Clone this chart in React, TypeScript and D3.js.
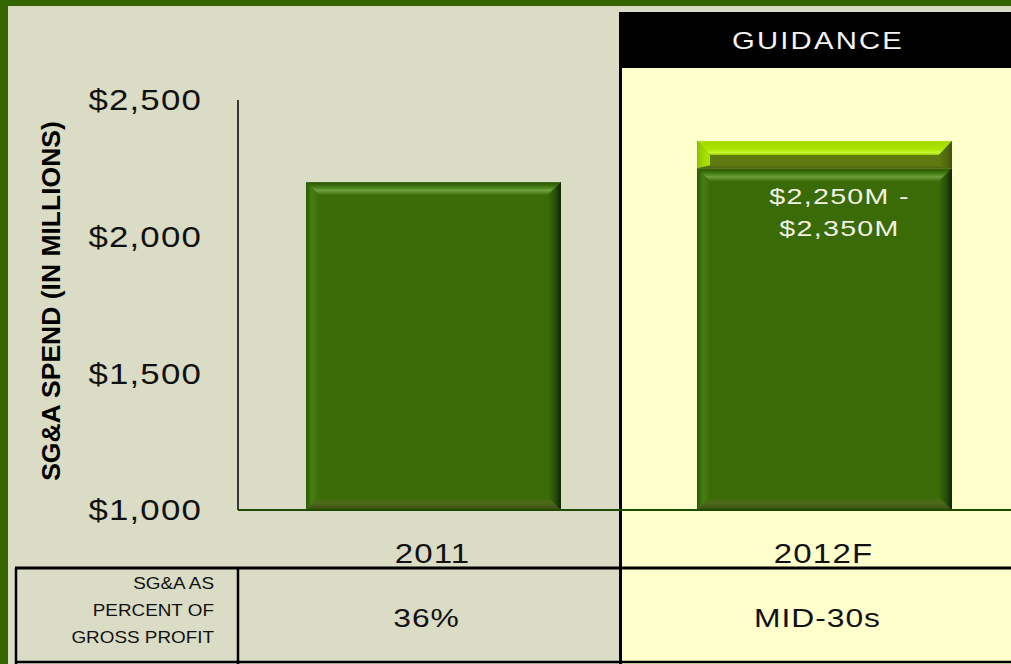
import React from "react";
import * as d3 from "d3";

const categories = ["2011", "2012F"];
const spendBase = [2200, 2250];
const spendRangeTop = [null, 2350];
const yTicks = [1000, 1500, 2000, 2500];
const percentLabels = ["36%", "MID-30s"];
const rangeLabelLines = ["$2,250M -", "$2,350M"];
const rowLabelLines = ["SG&A AS", "PERCENT OF", "GROSS PROFIT"];
const yTitle = "SG&A SPEND (IN MILLIONS)";
const guidanceLabel = "GUIDANCE";

const W = 1011;
const H = 664;
const FONT = "'Liberation Sans', Arial, sans-serif";

type STextProps = {
  x: number;
  y: number;
  size: number;
  text: string;
  anchor?: "start" | "middle" | "end";
  sx?: number;
  ls?: number;
  fill?: string;
  weight?: string | number;
};

function SText({ x, y, size, text, anchor = "middle", sx = 1.2, ls = 0, fill = "#111", weight = "normal" }: STextProps) {
  return (
    <g transform={`translate(${x},${y}) scale(${sx},1)`}>
      <text
        x={0}
        y={0}
        dy="0.36em"
        textAnchor={anchor}
        fontFamily={FONT}
        fontSize={size}
        letterSpacing={ls}
        fill={fill}
        fontWeight={weight}
      >
        {text}
      </text>
    </g>
  );
}

type Palette = {
  id: string;
  face: string;
  top: [string, string][];
  left: [string, string][];
  right: [string, string][];
  bottom: [string, string][];
};

const darkPal: Palette = {
  id: "dk",
  face: "#3A6B06",
  top: [["0%", "#4A7A1A"], ["12%", "#2E5A04"], ["45%", "#4C861A"], ["65%", "#6FA03E"], ["100%", "#3D6E09"]],
  left: [["0%", "#2C5804"], ["45%", "#477E14"], ["100%", "#3B6C07"]],
  right: [["0%", "#3A6B06"], ["55%", "#27500A"], ["100%", "#0E2400"]],
  bottom: [["0%", "#3A6B06"], ["45%", "#4F6A1A"], ["100%", "#3A4C12"]],
};

const lightPal: Palette = {
  id: "lt",
  face: "#5E7A10",
  top: [["0%", "#B8E830"], ["10%", "#A2DA00"], ["60%", "#ACE600"], ["82%", "#C6F630"], ["100%", "#9CCC00"]],
  left: [["0%", "#8CC000"], ["50%", "#A2D800"], ["100%", "#AEE400"]],
  right: [["0%", "#5E7A10"], ["60%", "#50680C"], ["100%", "#3E5206"]],
  bottom: [["0%", "#5E7A10"], ["100%", "#4C620C"]],
};

function PaletteDefs({ p }: { p: Palette }) {
  const mk = (name: string, stops: [string, string][], vertical: boolean) => (
    <linearGradient
      id={`${p.id}-${name}`}
      key={name}
      x1="0"
      y1="0"
      x2={vertical ? "0" : "1"}
      y2={vertical ? "1" : "0"}
    >
      {stops.map(([o, c], i) => (
        <stop key={i} offset={o} stopColor={c} />
      ))}
    </linearGradient>
  );
  return (
    <>
      {mk("top", p.top, true)}
      {mk("left", p.left, false)}
      {mk("right", p.right, false)}
      {mk("bottom", p.bottom, true)}
    </>
  );
}

function BevelRect({
  x0, y0, x1, y1, p, bs = 13, bt = 13, bb = 13,
}: { x0: number; y0: number; x1: number; y1: number; p: Palette; bs?: number; bt?: number; bb?: number }) {
  const pts = (a: number[][]) => a.map((q) => q.join(",")).join(" ");
  return (
    <g>
      <rect x={x0} y={y0} width={x1 - x0} height={y1 - y0} fill={p.face} />
      <polygon
        points={pts([[x0, y0], [x1, y0], [x1 - bs, y0 + bt], [x0 + bs, y0 + bt]])}
        fill={`url(#${p.id}-top)`}
      />
      <polygon
        points={pts([[x0, y1], [x1, y1], [x1 - bs, y1 - bb], [x0 + bs, y1 - bb]])}
        fill={`url(#${p.id}-bottom)`}
      />
      <polygon
        points={pts([[x0, y0], [x0 + bs, y0 + bt], [x0 + bs, y1 - bb], [x0, y1]])}
        fill={`url(#${p.id}-left)`}
      />
      <polygon
        points={pts([[x1, y0], [x1 - bs, y0 + bt], [x1 - bs, y1 - bb], [x1, y1]])}
        fill={`url(#${p.id}-right)`}
      />
    </g>
  );
}

export default function App() {
  const plotLeft = 238;
  const plotBottom = 510;
  const plotTop = 100;

  const x = d3
    .scaleBand<string>()
    .domain(categories)
    .range([plotLeft, 1020])
    .paddingInner(0.348)
    .paddingOuter(0.174);

  const y = d3.scaleLinear().domain([1000, 2500]).range([plotBottom, plotTop]);

  const guidX = 619;

  return (
    <svg
      width={W}
      height={H}
      viewBox={`0 0 ${W} ${H}`}
      style={{ position: "absolute", left: 0, top: 0, display: "block" }}
    >
      <defs>
        <PaletteDefs p={darkPal} />
        <PaletteDefs p={lightPal} />
      </defs>

      {/* background */}
      <rect x={0} y={0} width={W} height={H} fill="#DADCC5" />
      <rect x={0} y={0} width={W} height={6} fill="#336600" />
      <rect x={0} y={0} width={8} height={H} fill="#336600" />

      {/* guidance panel */}
      <rect x={guidX} y={12} width={W - guidX} height={H - 12} fill="#000" />
      <rect x={guidX + 3} y={68} width={W - guidX - 3} height={H - 68} fill="#FFFFCC" />
      <SText x={(guidX + W) / 2 + 3} y={40} size={24} text={guidanceLabel} fill="#F4F4F4" sx={1.22} ls={1.8} />

      {/* bars */}
      {categories.map((c, i) => {
        const x0 = x(c) as number;
        const x1 = x0 + x.bandwidth();
        const yb = y(spendBase[i]);
        const top = spendRangeTop[i];
        return (
          <g key={c}>
            <BevelRect x0={x0} y0={yb} x1={x1} y1={plotBottom} p={darkPal} />
            {top != null && (
              <BevelRect x0={x0} y0={y(top)} x1={x1} y1={yb} p={lightPal} bt={14} bb={3} />
            )}
          </g>
        );
      })}

      {/* range label */}
      {(() => {
        const c = categories[1];
        const cx = (x(c) as number) + x.bandwidth() / 2 + 15;
        const yb = y(spendBase[1]);
        return rangeLabelLines.map((t, k) => (
          <SText key={k} x={cx} y={yb + 28 + k * 32} size={22} text={t} fill="#F2F2E6" sx={1.3} ls={1} />
        ));
      })()}

      {/* axes */}
      <line x1={plotLeft} x2={plotLeft} y1={plotTop} y2={plotBottom} stroke="#000" strokeWidth={1.5} />
      <line x1={plotLeft} x2={W} y1={plotBottom} y2={plotBottom} stroke="#1E4A00" strokeWidth={2} />

      {yTicks.map((t) => (
        <SText
          key={t}
          x={202}
          y={y(t)}
          size={29}
          text={d3.format("$,")(t)}
          anchor="end"
          sx={1.2}
          ls={1}
        />
      ))}

      <text
        transform={`translate(50,${(plotTop + plotBottom) / 2 - 4}) rotate(-90)`}
        textAnchor="middle"
        dy="0.36em"
        fontFamily={FONT}
        fontWeight="bold"
        fontSize={26.5}
        fill="#000"
      >
        {yTitle}
      </text>

      {categories.map((c) => (
        <SText key={c} x={(x(c) as number) + x.bandwidth() / 2 - 1} y={553} size={27.5} text={c} sx={1.2} ls={1} />
      ))}

      {/* table */}
      <line x1={15} x2={W} y1={568} y2={568} stroke="#000" strokeWidth={3} />
      <line x1={15} x2={W} y1={662} y2={662} stroke="#000" strokeWidth={2.5} />
      <line x1={16} x2={16} y1={568} y2={664} stroke="#000" strokeWidth={2.5} />
      <line x1={plotLeft} x2={plotLeft} y1={568} y2={664} stroke="#000" strokeWidth={2.5} />
      {rowLabelLines.map((t, k) => (
        <SText key={k} x={214} y={583 + k * 27} size={16} text={t} anchor="end" sx={1.18} ls={0} />
      ))}
      {categories.map((c, i) => (
        <SText
          key={c}
          x={(x(c) as number) + x.bandwidth() / 2 - 7}
          y={617}
          size={26.5}
          text={percentLabels[i]}
          sx={1.2}
          ls={0.8}
        />
      ))}
    </svg>
  );
}
